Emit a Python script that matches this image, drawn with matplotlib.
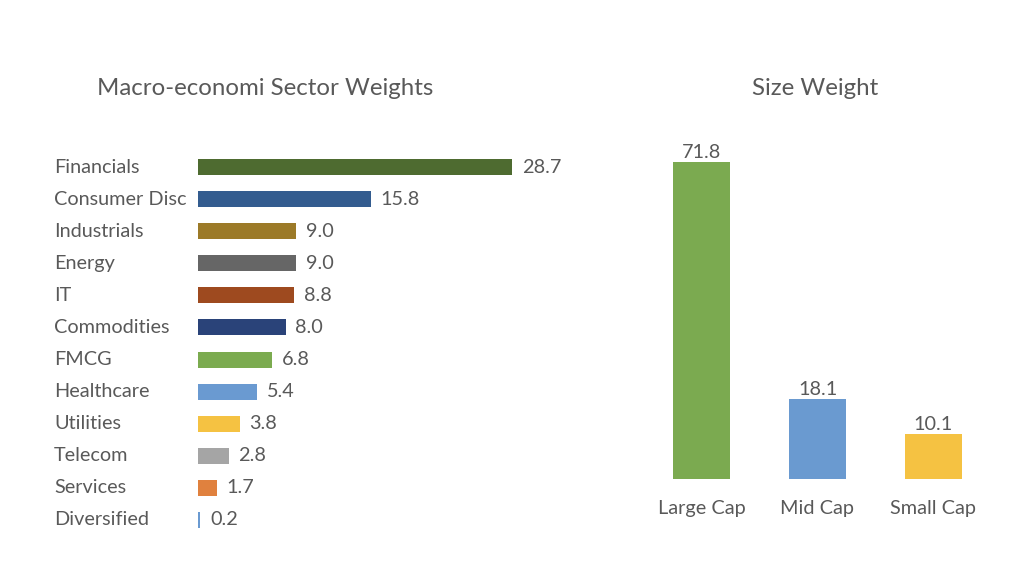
import matplotlib
matplotlib.use("Agg")
import matplotlib.pyplot as plt
from matplotlib.transforms import blended_transform_factory

sectors = ["Financials", "Consumer Disc", "Industrials", "Energy", "IT", "Commodities",
           "FMCG", "Healthcare", "Utilities", "Telecom", "Services", "Diversified"]
sector_weights = [28.7, 15.8, 9.0, 9.0, 8.8, 8.0, 6.8, 5.4, 3.8, 2.8, 1.7, 0.2]
sector_colors = ["#4E6B30", "#335C8F", "#9C7A28", "#666666", "#9E4A1F", "#2A4379",
                 "#7BAB4F", "#6A9AD1", "#F5C242", "#A5A5A5", "#E0813E", "#6A9AD1"]

sizes = ["Large Cap", "Mid Cap", "Small Cap"]
size_weights = [71.8, 18.1, 10.1]
size_colors = ["#7BAA50", "#6A9AD0", "#F5C242"]

plt.rcParams['font.family'] = ['Lato', 'DejaVu Sans']
TXT = "#595959"
FS = 14.3
W, H = 1024, 567
fig = plt.figure(figsize=(W / 100, H / 100), dpi=100)

def px_axes(left, top, right, bottom):
    return fig.add_axes([left / W, 1 - bottom / H, (right - left) / W, (bottom - top) / H])

# Left chart
ax1 = px_axes(198, 151, 198 + 35 * 10.94, 536)
y = list(range(len(sectors)))
ax1.barh(y, sector_weights, height=0.5, color=sector_colors)
ax1.set_xlim(0, 35)
ax1.set_ylim(len(sectors) - 0.5, -0.5)
ax1.axis("off")
tr = blended_transform_factory(fig.transFigure, ax1.transData)
for i, (s, v) in enumerate(zip(sectors, sector_weights)):
    ax1.text(54 / W, i, s, transform=tr, ha="left", va="center", fontsize=FS, color=TXT)
    ax1.annotate(f"{v:.1f}", (v, i), xytext=(7, 0), textcoords="offset points",
                 ha="left", va="center", fontsize=FS, color=TXT)
fig.text(265 / W, 1 - 89 / H, "Macro-economi Sector Weights", ha="center", va="center",
         fontsize=17.3, color=TXT)

# Right chart
ax2 = px_axes(644, 479 - 80 * 4.415, 991, 479)
x = list(range(len(sizes)))
ax2.bar(x, size_weights, width=0.49, color=size_colors)
ax2.set_xlim(-0.5, 2.5)
ax2.set_ylim(0, 80)
ax2.axis("off")
for i, (s, v) in enumerate(zip(sizes, size_weights)):
    ax2.annotate(f"{v:.1f}", (i, v), xytext=(0, 1), textcoords="offset points",
                 ha="center", va="bottom", fontsize=FS, color=TXT)
    ax2.annotate(s, (i, 0), xytext=(0, -21.5), textcoords="offset points",
                 ha="center", va="center", fontsize=FS, color=TXT)
fig.text(815 / W, 1 - 89 / H, "Size Weight", ha="center", va="center",
         fontsize=17.3, color=TXT)

fig.savefig("out.png", dpi=100, facecolor="white")
